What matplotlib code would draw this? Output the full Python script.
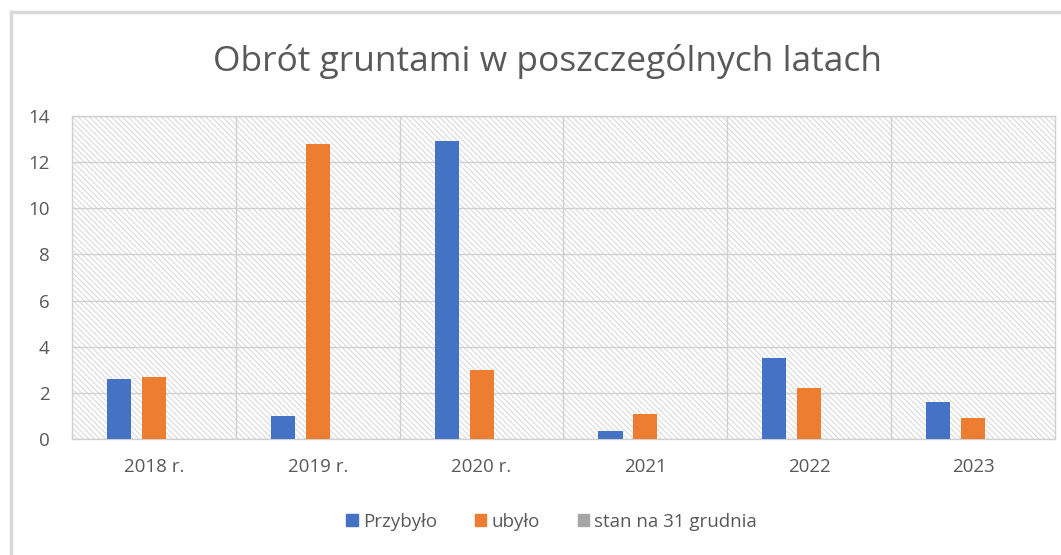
import numpy as np
import matplotlib.pyplot as plt
from matplotlib.lines import Line2D
from matplotlib.patches import Patch

years = ['2018 r.', '2019 r.', '2020 r.', '2021', '2022', '2023']
przybylo = [2.6, 1.0, 12.9, 0.35, 3.5, 1.6]
ubylo = [2.7, 12.8, 3.0, 1.1, 2.2, 0.9]
stan = [0, 0, 0, 0, 0, 0]

blue = '#4472c4'
orange = '#ed7d31'
gray = '#a5a5a5'
txt = '#595959'

plt.rcParams['font.family'] = ['Open Sans', 'DejaVu Sans']
plt.rcParams['hatch.color'] = '#dadada'
plt.rcParams['hatch.linewidth'] = 0.8

fig = plt.figure(figsize=(10.61, 5.55), dpi=100)
ax = fig.add_axes([72 / 1061, 1 - 439 / 555, 983 / 1061, 323 / 555])

x = np.arange(len(years))
w = 0.147
step = 0.213
ax.bar(x - step, przybylo, w, color=blue, zorder=3)
ax.bar(x, ubylo, w, color=orange, zorder=3)
ax.bar(x + step, stan, w, color=gray, zorder=3)

ax.set_xlim(-0.5, len(years) - 0.5)
ax.set_ylim(0, 14)
ax.set_yticks(range(0, 15, 2))
ax.set_xticks(x)
ax.set_xticklabels(years)

# hatched plot area
ax.patch.set_facecolor('white')
ax.patch.set_hatch('\\\\\\\\\\\\')
ax.patch.set_edgecolor('#dadada')

ax.grid(axis='y', color='#d0d0d0', linewidth=1, zorder=1)
for b in np.arange(0.5, len(years) - 1, 1):
    ax.axvline(b, color='#d0d0d0', linewidth=1, zorder=1)
for s in ax.spines.values():
    s.set_color('#d0d0d0')
    s.set_linewidth(1)

ax.tick_params(length=0, colors=txt, labelsize=13.5)
ax.tick_params(axis='x', pad=14)
ax.tick_params(axis='y', pad=16)

fig.text(0.516, 0.89, 'Obrót gruntami w poszczególnych latach', ha='center', va='center',
         fontsize=25.5, color=txt)

handles = [Patch(color=blue), Patch(color=orange), Patch(color=gray)]
fig.legend(handles, ['Przybyło', 'ubyło', 'stan na 31 grudnia'], loc='center',
           bbox_to_anchor=(0.52, 0.06), ncol=3, frameon=False, fontsize=13.5,
           labelcolor=txt, handlelength=0.6, handleheight=0.6, handletextpad=0.3,
           columnspacing=2.0)

# chart border (cropped)
fig.add_artist(Line2D([10.5 / 1061, 1], [1 - 11.5 / 555] * 2, color='#d9d9d9', linewidth=2.5))
fig.add_artist(Line2D([10.5 / 1061] * 2, [0, 1 - 11.5 / 555], color='#d9d9d9', linewidth=2.5))

fig.savefig('out.png', dpi=100)
